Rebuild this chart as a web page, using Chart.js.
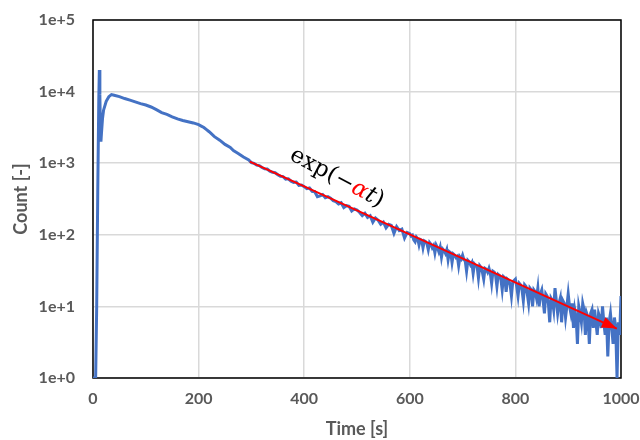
<!DOCTYPE html>
<html>
<head>
<meta charset="utf-8">
<script src="https://cdn.jsdelivr.net/npm/chart.js@4.4.1/dist/chart.umd.min.js"></script>
<style>
  body { margin: 0; background: #fff; }
</style>
</head>
<body>
<canvas id="decay" width="640" height="440"></canvas>
<script>
const times = [
  0, 5, 7, 9, 11, 12, 13, 14, 15, 16, 18, 20, 25, 30, 35, 40, 50, 60, 70, 80, 90,
  100, 110, 120, 130, 140, 150, 160, 170, 180, 190, 200, 205, 210, 215, 220, 230,
  240, 250, 260, 266, 275, 285, 295,
  300, 305, 310, 315, 320, 325, 330, 335, 340, 345,
  350, 355, 360, 365, 370, 375, 380, 385, 390, 395,
  400, 405, 410, 415, 420, 425, 430, 435, 440, 445,
  450, 455, 460, 465, 470, 475, 480, 485, 490, 495,
  500, 505, 510, 515, 520, 525, 530, 535, 540, 545,
  550, 555, 560, 565, 570, 575, 580, 585, 590, 595,
  600, 602.5, 605, 607.5, 610, 612.5, 615, 617.5, 620, 622.5,
  625, 627.5, 630, 632.5, 635, 637.5, 640, 642.5, 645, 647.5,
  650, 652.5, 655, 657.5, 660, 662.5, 665, 667.5, 670, 672.5,
  675, 677.5, 680, 682.5, 685, 687.5, 690, 692.5, 695, 697.5,
  700, 702.5, 705, 707.5, 710, 712.5, 715, 717.5, 720, 722.5,
  725, 727.5, 730, 732.5, 735, 737.5, 740, 742.5, 745, 747.5,
  750, 752.5, 755, 757.5, 760, 762.5, 765, 767.5, 770, 772.5,
  775, 777.5, 780, 782.5, 785, 787.5, 790, 792.5, 795, 797.5,
  800, 802.5, 805, 807.5, 810, 812.5, 815, 817.5, 820, 822.5,
  825, 827.5, 830, 832.5, 835, 837.5, 840, 842.5, 845, 847.5,
  850, 852.5, 855, 857.5, 860, 862.5, 865, 867.5, 870, 872.5,
  875, 877.5, 880, 882.5, 885, 887.5, 890, 892.5, 895, 897.5,
  900, 902.5, 905, 907.5, 910, 912.5, 915, 917.5, 920, 922.5,
  925, 927.5, 930, 932.5, 935, 937.5, 940, 942.5, 945, 947.5,
  950, 952.5, 955, 957.5, 960, 962.5, 965, 967.5, 970, 972.5,
  975, 977.5, 980, 982.5, 985, 987.5, 990, 992.5, 995, 997.5, 1000
];
const counts = [
  1, 1, 10, 400, 8000, 20000, 9000, 3000, 2000, 2600, 4200, 5500, 7300, 8500, 9100, 8900, 8500, 8000, 7600, 7200, 6800,
  6500, 6100, 5600, 5100, 4800, 4450, 4150, 3950, 3800, 3650, 3450, 3300, 3150, 2950, 2750, 2350,
  2100, 1830, 1660, 1500, 1370, 1220, 1110,
  1020, 995, 940, 925, 870, 835, 830, 775, 745, 735,
  690, 655, 650, 600, 605, 560, 540, 545, 490, 495,
  470, 440, 450, 405, 400, 340, 350, 365, 330, 340,
  325, 300, 290, 270, 280, 240, 255, 250, 215, 230,
  222, 205, 185, 200, 175, 185, 150, 172, 160, 140,
  150, 125, 140, 135, 105, 130, 115, 120, 90, 108,
  104, 96, 99, 85, 80, 93, 88, 72, 86, 84,
  66, 82, 80, 75, 62, 78, 74, 66, 71, 56,
  72, 66, 58, 67, 49, 63, 60, 55, 62, 45,
  58, 56, 41, 54, 52, 48, 50, 37, 49, 46,
  52, 45, 43, 31, 44, 42, 38, 41, 29, 39,
  37, 36, 25, 37, 35, 30, 24, 34, 33, 30,
  34, 29, 21, 31, 30, 27, 19, 28, 27, 24,
  17, 26, 25, 16, 24, 23, 20, 14, 22, 23,
  24, 19, 14, 21, 20, 17, 12, 20, 19, 15,
  11, 18, 17, 10, 17, 16, 13, 18, 10, 15,
  17, 12, 8, 15, 14, 11, 6, 13, 12, 9,
  18, 12, 8, 11, 13, 6, 12, 11, 7, 10,
  15, 10, 8, 11, 5, 9, 7, 3, 10, 8,
  6, 11, 9, 4, 8, 7, 3, 8, 9, 5,
  9, 6, 4, 8, 7, 5, 10, 6, 4, 7,
  2, 6, 8, 5, 3, 7, 5, 1, 6, 4, 14
];

// exponential fit drawn as the red arrow
const fitTimes = [297, 992];
const fitCounts = [1050, 4.9];

const xTickValues = [0, 200, 400, 600, 800, 1000];
const yTickValues = [1, 10, 100, 1000, 10000, 100000];
const yTickLabels = ['1e+0', '1e+1', '1e+2', '1e+3', '1e+4', '1e+5'];

const grey = '#595959';
const tickFont = { family: 'Lato', size: 16, weight: 'bold' };
const titleFont = { family: 'Lato', size: 18, weight: 'bold' };

const frame = {
  id: 'frame',
  beforeDatasetsDraw(chart) {
    const { ctx, chartArea: a } = chart;
    ctx.save();
    ctx.strokeStyle = '#000';
    ctx.lineWidth = 1.5;
    ctx.strokeRect(a.left, a.top, a.right - a.left, a.bottom - a.top);
    ctx.restore();
  }
};

const arrowHead = {
  id: 'arrowHead',
  afterDatasetsDraw(chart) {
    const pts = chart.getDatasetMeta(1).data;
    const p0 = pts[pts.length - 2], p1 = pts[pts.length - 1];
    const ang = Math.atan2(p1.y - p0.y, p1.x - p0.x);
    const ctx = chart.ctx;
    ctx.save();
    ctx.translate(p1.x, p1.y);
    ctx.rotate(ang);
    ctx.fillStyle = '#ff0000';
    ctx.beginPath();
    ctx.moveTo(0, 0);
    ctx.lineTo(-15, -5.5);
    ctx.lineTo(-15, 5.5);
    ctx.closePath();
    ctx.fill();
    ctx.restore();
  }
};

const expLabel = {
  id: 'expLabel',
  afterDatasetsDraw(chart) {
    const ctx = chart.ctx;
    const x = chart.scales.x.getPixelForValue(462);
    const y = chart.scales.y.getPixelForValue(620);
    const parts = [
      { t: 'exp(\u2212', c: '#000', f: '23px "DejaVu Serif"' },
      { t: '\u03b1', c: '#ff0000', f: 'italic 23px "DejaVu Serif"' },
      { t: 't', c: '#000', f: 'italic 23px "DejaVu Serif"' },
      { t: ')', c: '#000', f: '23px "DejaVu Serif"' }
    ];
    ctx.save();
    ctx.translate(x, y);
    ctx.rotate(28 * Math.PI / 180);
    ctx.textBaseline = 'middle';
    let total = 0;
    parts.forEach(p => { ctx.font = p.f; p.w = ctx.measureText(p.t).width; total += p.w; });
    let cx = -total / 2;
    parts.forEach(p => {
      ctx.font = p.f;
      ctx.fillStyle = p.c;
      ctx.fillText(p.t, cx, 0);
      cx += p.w;
    });
    ctx.restore();
  }
};

new Chart(document.getElementById('decay'), {
  type: 'line',
  data: {
    datasets: [{
      data: times.map((t, i) => ({ x: t, y: counts[i] })),
      borderColor: '#4472C4',
      borderWidth: 3,
      pointRadius: 0,
      tension: 0,
      order: 1
    }, {
      data: fitTimes.map((t, i) => ({ x: t, y: fitCounts[i] })),
      borderColor: '#ff0000',
      borderWidth: 2,
      pointRadius: 0,
      order: 0
    }]
  },
  options: {
    responsive: false,
    animation: false,
    layout: { padding: { left: 0, right: 19, top: 20, bottom: 0 } },
    plugins: { legend: { display: false }, tooltip: { enabled: false } },
    scales: {
      x: {
        type: 'linear',
        min: 0,
        max: 1000,
        afterBuildTicks: s => { s.ticks = xTickValues.map(v => ({ value: v })); },
        afterFit: s => { s.height = 62; s.paddingLeft = 0; s.paddingRight = 0; },
        grid: { color: '#d9d9d9', lineWidth: 1.5, drawTicks: false },
        border: { display: false },
        ticks: { color: grey, font: tickFont, padding: 11, maxRotation: 0, callback: v => String(v) },
        title: { display: true, text: 'Time [s]', color: grey, font: titleFont, padding: { top: 0, bottom: 0 } }
      },
      y: {
        type: 'logarithmic',
        min: 1,
        max: 100000,
        afterBuildTicks: s => { s.ticks = yTickValues.map(v => ({ value: v })); },
        afterFit: s => { s.width = 93; s.paddingTop = 0; s.paddingBottom = 0; },
        grid: { color: '#d9d9d9', lineWidth: 1.5, drawTicks: false },
        border: { display: false },
        ticks: {
          color: grey,
          font: tickFont,
          padding: 18,
          callback: v => yTickLabels[yTickValues.indexOf(v)]
        },
        title: { display: true, text: 'Count [-]', color: grey, font: titleFont, padding: { top: 10, bottom: 0 } }
      }
    }
  },
  plugins: [frame, arrowHead, expLabel]
});
</script>
</body>
</html>
